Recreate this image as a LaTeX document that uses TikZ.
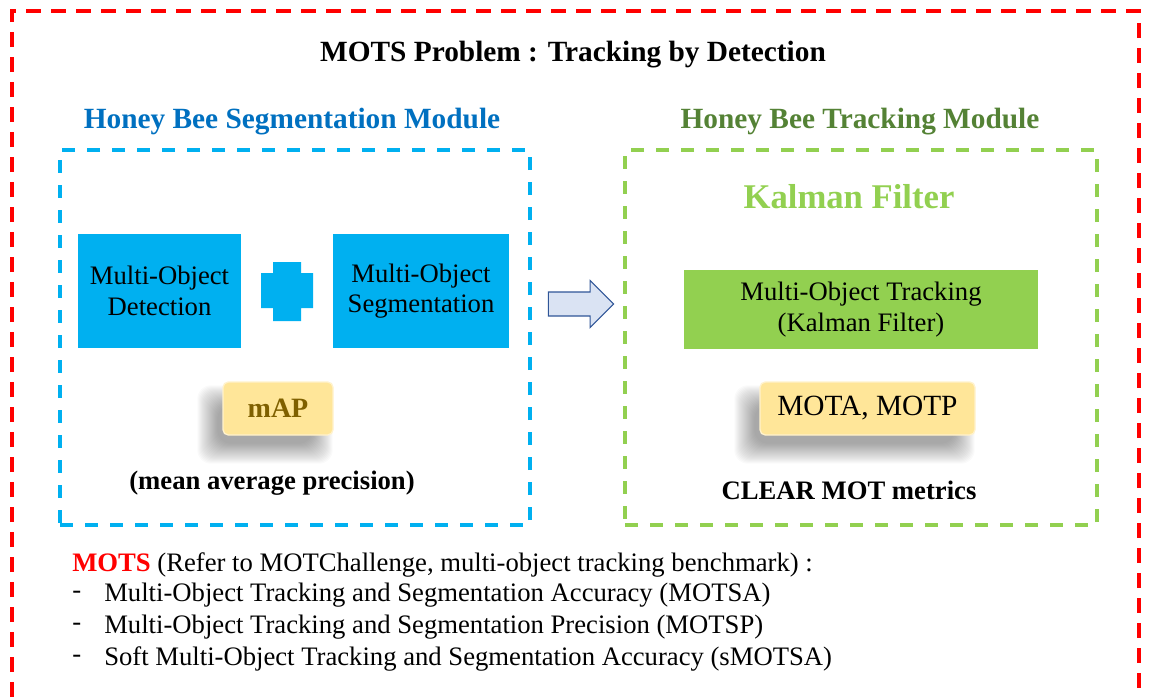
\documentclass[tikz,border=0pt]{standalone}
\usepackage{fontspec}
\setmainfont{Liberation Serif}
\usetikzlibrary{positioning, shapes.arrows, backgrounds}

\definecolor{segblue}{RGB}{0,112,192}
\definecolor{boxblue}{RGB}{0,176,240}
\definecolor{trkgreen}{RGB}{84,130,53}
\definecolor{boxgreen}{RGB}{146,208,80}
\definecolor{metricfill}{RGB}{255,230,153}
\definecolor{metricgold}{RGB}{127,96,0}
\definecolor{arrowfill}{RGB}{218,227,243}
\definecolor{arrowedge}{RGB}{47,85,151}
\definecolor{motsred}{RGB}{255,0,0}

\begin{document}
\begin{tikzpicture}
		[
		x=0.75pt, y=-0.75pt,
		heading/.style ={font=\bfseries\fontsize{22}{26}\selectfont},
		module/.style ={rectangle, draw, dash pattern=on 9.75pt off 9pt, line width=2.8pt, minimum height=281.25pt},
		block/.style ={rectangle, inner sep=0pt, align=center, font=\fontsize{20}{23}\selectfont},
		metric/.style ={rectangle, rounded corners=4pt, fill=metricfill, draw=metricfill!50!white, line width=1pt, inner sep=0pt, minimum height=39.75pt},
		note/.style ={font=\bfseries\fontsize{20}{24}\selectfont},
		line/.style ={anchor=west, inner sep=0pt, font=\fontsize{20}{24}\selectfont}
		]
		\useasboundingbox (0,0) rectangle (1150,697);
		% outer frame, open at the bottom
		\draw[motsred, line width=3pt, dash pattern=on 11.25pt off 7.5pt] (12,697) -- (12,11) -- (1139,11) -- (1139,697);
		\node[font=\bfseries\fontsize{22}{26}\selectfont] (title) at (573,55) {MOTS Problem : Tracking by Detection};
		% segmentation module
		\node[heading, text=segblue] (segtitle) at (292,122) {Honey Bee Segmentation Module};
		\node[module, draw=boxblue, minimum width=352.5pt] (segmod) at (295,337.5) {};
		\node[block, fill=boxblue, minimum width=122.25pt, minimum height=85.5pt] (det) at (159.5,291) {Multi-Object\\Detection};
		\node[block, fill=boxblue, minimum width=132pt, minimum height=85.5pt] (seg) at (421,291) {Multi-Object\\Segmentation};
		\fill[boxblue] (261,273) -- (273,273) -- (273,262) -- (301,262) -- (301,273) -- (313,273) -- (313,308) -- (301,308) -- (301,321) -- (273,321) -- (273,308) -- (261,308) -- cycle;
		\node[metric, minimum width=82.5pt, font=\bfseries\fontsize{21}{24}\selectfont, text=metricgold] (map) at (278,408.5) {mAP};
		\node[note] (mapdesc) at (272,483) {(mean average precision)};
		% tracking module
		\node[heading, text=trkgreen] (trktitle) at (860,122) {Honey Bee Tracking Module};
		\node[module, draw=boxgreen, minimum width=354pt] (trkmod) at (861,337.5) {};
		\node[font=\bfseries\fontsize{26}{30}\selectfont, text=boxgreen] (kalman) at (849,197) {Kalman Filter};
		\node[block, fill=boxgreen, minimum width=265.5pt, minimum height=59.25pt] (trk) at (861,309.5) {Multi-Object Tracking\\(Kalman Filter)};
		\node[metric, minimum width=161.25pt, font=\fontsize{22}{26}\selectfont] (mota) at (867.5,408.5) {MOTA, MOTP};
		\node[note] (clear) at (849,490) {CLEAR MOT metrics};
		% soft shadows behind the metric boxes
		\begin{pgfonlayer}{background}
			\foreach \m in {map, mota}
				\foreach \r in {-8,...,12}
					\fill[black, opacity=0.02, rounded corners=10pt] ([shift={(-13-\r,16+\r)}]\m.south west) rectangle ([shift={(-13+\r,16-\r)}]\m.north east);
		\end{pgfonlayer}
		% module arrow
		\node[single arrow, draw=arrowedge, fill=arrowfill, line width=0.8pt, inner xsep=0pt, inner ysep=8.6pt, minimum height=49pt, single arrow head extend=8.6pt] (flow) at (575,304) {};
		% metric list
		\node[line] (mots) at (72,565) {\textcolor{motsred}{\textbf{MOTS}} (Refer to MOTChallenge, multi-object tracking benchmark) :};
		\foreach \txt [count=\i] in {Multi-Object Tracking and Segmentation Accuracy (MOTSA), Multi-Object Tracking and Segmentation Precision (MOTSP), Soft Multi-Object Tracking and Segmentation Accuracy (sMOTSA)}
		{
			\node[line] (dash\i) at (72,563+32*\i) {-};
			\node[line] (item\i) at (104,563+32*\i) {\txt};
		}
	\end{tikzpicture}
\end{document}
